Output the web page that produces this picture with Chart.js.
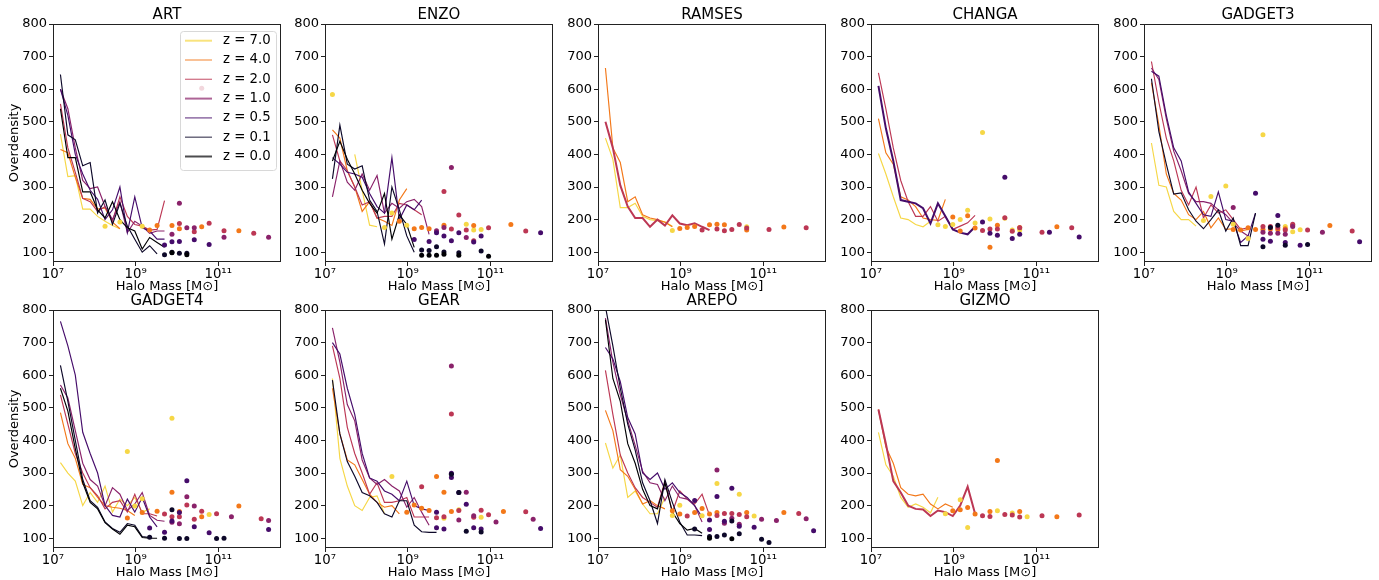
<!DOCTYPE html>
<html>
<head>
<meta charset="utf-8">
<script src="https://cdn.jsdelivr.net/npm/chart.js@4.4.1/dist/chart.umd.min.js"></script>
<style>
  body { margin: 0; background: #fff; width: 1379px; height: 580px; overflow: hidden; position: relative; }
  .panel { position: absolute; }
</style>
</head>
<body>
<script>
// redshift labels, one colour each (inferno-like)
const zLabels = ['z = 7.0', 'z = 4.0', 'z = 2.0', 'z = 1.0', 'z = 0.5', 'z = 0.1', 'z = 0.0'];
const zColors = ['#f6d746', '#f37819', '#bc3754', '#8a226a', '#450c6a', '#0d0829', '#000004'];

// log10 halo mass bin centres used by the binned lines
const massBins = [7.18, 7.36, 7.54, 7.72, 7.90, 8.08, 8.26, 8.44, 8.62, 8.80, 8.98, 9.16, 9.34, 9.52, 9.70];
const xTickExps = [7, 9, 11];
const yTicks = [100, 200, 300, 400, 500, 600, 700, 800];

// lines: one array per z (values per mass bin); points: [log10 M, overdensity]
const artLines = [
  [462, 332, 335, 232, 232, 210, 195, 182, 172],
  [415, 405, 330, 265, 262, 232, 236, 192, 172],
  [555, 420, 345, 265, 255, 225, 240, 195, 270, 210, 185, 180, 168, 170, 258],
  [600, 540, 420, 320, 295, 300, 240, 200, 255, 160, 195, 180, 158, 165, 165],
  [600, 520, 400, 340, 290, 262, 200, 230, 300, 160, 270, 175, 165, 140, 140],
  [645, 460, 445, 365, 375, 220, 260, 185, 250, 180, 140, 100, 120, 95],
  [540, 390, 390, 285, 285, 230, 205, 255, 200, 175, 165, 110, 145, 130, 115]
];
const artPoints = [
  [[8.26, 180], [8.62, 193], [9.16, 180]],
  [[9.34, 168], [9.52, 182], [9.88, 182], [10.06, 172], [10.60, 178], [11.50, 166]],
  [[10.06, 188], [10.42, 163], [10.60, 603], [10.78, 189], [11.14, 166], [11.86, 158]],
  [[9.88, 155], [10.06, 250], [10.24, 175], [10.42, 175], [11.14, 146], [12.22, 146]],
  [[9.70, 122], [9.88, 132], [10.06, 133], [10.42, 138], [10.78, 124]],
  [[9.70, 92], [9.88, 100], [10.06, 97], [10.24, 97]],
  [[9.88, 98], [10.24, 92]]
];

const enzoLines = [
  [null, null, null, 400, 290, 183, 178],
  [475, 450, 350, 300, 225, 255, 205, 195, 182, 260, 295],
  [460, 380, 350, 300, 245, 255, 205, 210, 210, 250, 245, 230, 215],
  [270, 380, 315, 290, 340, 290, 335, 220, 250, 235, 255, 262, 240, 155],
  [390, 370, 345, 340, 330, 280, 240, 220, 390, 200, 245, 230, 260],
  [325, 490, 370, 355, 365, 260, 225, 125, 300, 230, 150, 100],
  [380, 440, 385, 340, 290, 250, 220, 280, 140, 215, 185, 115]
];
const enzoPoints = [
  [[7.18, 584], [8.44, 176], [8.62, 220], [8.98, 183], [10.42, 186], [10.60, 168], [10.78, 170]],
  [[8.80, 195], [9.16, 172], [9.34, 176], [9.52, 172], [9.88, 183], [10.60, 182], [11.50, 185]],
  [[9.88, 286], [10.06, 171], [10.24, 214], [10.42, 168], [10.60, 135], [10.96, 175], [11.86, 165]],
  [[9.70, 166], [9.88, 176], [10.06, 360], [10.42, 145]],
  [[9.16, 139], [9.52, 133], [9.70, 160], [9.88, 150], [10.06, 135], [10.24, 160], [10.60, 131], [10.78, 150], [12.22, 160]],
  [[9.34, 107], [9.52, 105], [9.70, 117], [9.88, 101], [10.24, 98], [10.78, 104]],
  [[9.34, 91], [9.52, 91], [9.70, 91], [9.88, 94], [10.24, 91], [10.96, 88]]
];

const ramsesLines = [
  [450, 385, 237, 237, 250, 210, 200, 197, 193, 180],
  [665, 420, 375, 255, 270, 215, 205, 200, 192, 178],
  [500, 420, 305, 240, 205, 205, 178, 200, 182, 213, 188, 183, 189, 178, 168],
  [], [], [], []
];
const ramsesPoints = [
  [[8.80, 167], [10.60, 178]],
  [[8.98, 173], [9.16, 176], [9.34, 179], [9.70, 184], [9.88, 186], [10.06, 184], [10.60, 168], [11.50, 177]],
  [[9.52, 168], [9.88, 171], [10.06, 166], [10.24, 170], [10.42, 185], [10.60, 174], [11.14, 170], [12.04, 175]],
  [], [], [], []
];

const changaLines = [
  [403, 340, 270, 205, 200, 185, 178, 195],
  [510, 405, 370, 270, 260, 240, 205, 200, 198, 262],
  [650, 540, 420, 320, 255, 210, 210, 240, 195, 210, 170, 180, 190, 213],
  [],
  [610, 480, 380, 260, 255, 250, 235, 188, 250, 210, 170, 160, 155, 178],
  [], []
];
const changaPoints = [
  [[8.62, 184], [8.80, 179], [8.98, 185], [9.16, 200], [9.34, 229], [9.52, 190], [9.70, 467], [9.88, 202], [10.24, 204], [10.42, 168], [10.60, 168]],
  [[8.98, 208], [9.16, 165], [9.34, 212], [9.52, 174], [9.88, 115], [10.06, 183], [10.60, 176], [11.50, 178]],
  [[9.70, 167], [9.88, 171], [10.06, 171], [10.24, 206], [10.42, 164], [10.60, 175], [11.14, 161], [11.86, 175]],
  [],
  [[9.70, 193], [9.88, 158], [10.06, 152], [10.24, 330], [10.42, 142], [10.60, 155], [11.32, 161], [12.04, 147]],
  [], []
];

const gadget3Lines = [
  [435, 305, 300, 225, 200, 200, 180],
  [620, 490, 340, 280, 260, 215, 200, 225, 175, 205, 170, 172, 165, 170],
  [685, 560, 450, 380, 290, 245, 300, 205, 245, 220, 230, 200, 170, 175],
  [665, 630, 510, 410, 350, 280, 255, 255, 250, 230, 215, 190, 165, 150],
  [655, 640, 520, 420, 380, 285, 250, 215, 210, 285, 200, 195, 130, 150, 220],
  [632, 470, 370, 278, 282, 230, 195, 172, 200, 230, 165, 205, 120, 120, 220],
  []
];
const gadget3Points = [
  [[8.44, 197], [8.62, 271], [8.98, 303], [9.16, 186], [9.52, 142], [9.88, 460], [10.42, 179], [10.60, 163], [10.78, 169]],
  [[9.16, 170], [9.34, 168], [9.52, 175], [9.70, 170], [9.88, 170], [10.06, 171], [10.24, 170], [10.42, 172], [10.60, 182], [11.50, 182]],
  [[9.88, 179], [10.06, 179], [10.24, 176], [10.42, 168], [10.60, 186], [10.96, 168], [12.04, 165]],
  [[9.16, 237], [9.88, 161], [10.06, 158], [10.24, 158], [10.42, 155], [10.60, 179], [11.32, 161]],
  [[9.70, 281], [9.88, 140], [10.06, 134], [10.24, 213], [10.42, 130], [10.78, 121], [12.22, 132]],
  [[9.88, 117], [10.06, 176], [10.24, 183], [10.42, 121], [10.96, 124]],
  []
];

const gadget4Lines = [
  [332, 300, 275, 200, 240, 210, 260, 180, 220, 200, 225, 180, 190],
  [485, 390, 345, 265, 255, 225, 200, 195, 192, 185, 170],
  [540, 450, 360, 300, 255, 230, 190, 210, 215, 180, 235, 175, 175, 168],
  [570, 530, 430, 330, 280, 260, 200, 255, 235, 185, 205, 240, 170, 155, 152],
  [765, 690, 600, 425, 360, 300, 200, 170, 165, 220, 180, 225, 165, 135],
  [630, 520, 400, 280, 215, 195, 150, 130, 118, 145, 140, 105, 102],
  [560, 490, 375, 270, 210, 190, 148, 128, 112, 140, 135, 102, 100, 100]
];
const gadget4Points = [
  [[8.80, 366], [8.98, 199], [9.16, 221], [9.88, 468], [10.78, 173]],
  [[8.80, 162], [9.16, 179], [9.52, 183], [9.88, 241], [10.06, 182], [10.60, 166], [11.50, 199]],
  [[9.70, 174], [9.88, 166], [10.06, 166], [10.24, 202], [10.42, 158], [10.60, 183], [10.96, 175], [12.04, 160]],
  [[9.88, 149], [10.06, 144], [10.24, 227], [10.42, 199], [11.32, 166], [12.22, 154]],
  [[9.34, 131], [9.70, 118], [9.88, 153], [10.06, 179], [10.24, 276], [10.42, 135], [10.78, 117], [12.22, 127]],
  [[9.34, 103], [9.70, 100], [9.88, 187], [10.06, 99], [10.24, 99], [10.96, 99], [11.14, 100]],
  []
];

const gearLines = [
  [590, 345, 260, 200, 185, 225, 230, 175],
  [560, 420, 340, 325, 280, 235, 210, 195, 200, 175],
  [690, 590, 440, 360, 300, 235, 270, 210, 210, 215, 225, 165, 165, 165],
  [745, 640, 510, 460, 340, 285, 265, 280, 260, 245, 195, 225, 180, 140],
  [700, 665, 560, 480, 360, 285, 275, 245, 235, 215, 275, 200, 190, 185],
  [585, 420, 335, 290, 240, 230, 210, 175, 165, 215, 215, 140, 120, 118, 118],
  []
];
const gearPoints = [
  [[8.62, 289], [9.88, 161], [10.24, 187], [10.78, 164]],
  [[8.98, 180], [9.16, 202], [9.34, 192], [9.52, 185], [9.70, 289], [9.88, 241], [10.06, 182], [11.32, 182]],
  [[9.34, 258], [9.70, 163], [9.88, 166], [10.06, 481], [10.24, 185], [10.60, 164], [10.78, 186], [10.96, 172], [11.86, 181]],
  [[10.06, 628], [10.24, 156], [10.42, 241], [10.60, 169], [11.14, 150], [12.04, 158]],
  [[9.70, 180], [9.70, 132], [9.88, 128], [10.06, 299], [10.06, 286], [10.24, 240], [10.42, 204], [10.60, 132], [10.78, 128], [12.22, 130]],
  [[10.06, 296], [10.24, 240], [10.42, 121], [10.78, 119]],
  []
];

const arepoLines = [
  [392, 315, 355, 225, 245, 205, 175, 175, 225],
  [492, 430, 310, 290, 250, 205, 215, 200, 190],
  [615, 480, 355, 300, 255, 225, 210, 195, 275, 180, 245, 220, 205, 235, 170],
  [775, 640, 540, 460, 385, 305, 270, 265, 215, 260, 225, 220, 200, 150],
  [685, 650, 580, 470, 420, 300, 280, 300, 250, 270, 240, 225, 200, 165],
  [810, 690, 560, 450, 370, 270, 215, 145, 280, 210, 150, 110, 110, 108],
  [770, 590, 520, 390, 330, 250, 200, 190, 270, 180, 145, 125, 130, 115]
];
const arepoPoints = [
  [[8.80, 170], [8.98, 201], [9.52, 169], [9.88, 268], [10.42, 235], [10.78, 168]],
  [[8.80, 184], [8.98, 174], [9.34, 179], [9.52, 191], [9.70, 174], [9.88, 179], [10.60, 179], [11.50, 179]],
  [[9.16, 168], [9.88, 170], [10.06, 176], [10.24, 176], [10.42, 173], [10.60, 166], [11.86, 176]],
  [[9.88, 309], [10.06, 146], [10.24, 161], [10.42, 143], [10.96, 158], [11.32, 154], [12.04, 160]],
  [[9.34, 216], [9.70, 156], [9.70, 127], [9.88, 228], [10.06, 152], [10.24, 253], [10.42, 137], [10.78, 134], [12.22, 123]],
  [[9.34, 128], [9.70, 105], [9.88, 105], [10.06, 110], [10.24, 153], [10.42, 114], [10.96, 97], [11.14, 87]],
  [[9.70, 100], [10.24, 98]]
];

const gizmoLines = [
  [425, 325, 290, 225, 195, 205, 195, 178, 226],
  [495, 380, 330, 255, 235, 230, 235, 205, 190, 205, 195],
  [495, 390, 275, 240, 200, 190, 188, 168, 185, 180, 168, 200, 258, 175],
  [], [], [], []
];
const gizmoPoints = [
  [[8.80, 175], [9.16, 218], [9.34, 133], [10.06, 184], [10.42, 177], [10.78, 166]],
  [[8.98, 184], [9.16, 187], [9.34, 194], [9.52, 174], [9.88, 182], [10.06, 338], [10.60, 182], [11.50, 166]],
  [[9.70, 169], [9.88, 167], [10.24, 173], [10.42, 171], [10.60, 165], [11.14, 169], [12.04, 171]],
  [], [], [], []
];

const panels = [
  { title: 'ART', lines: artLines, points: artPoints, row: 0, col: 0, legend: true },
  { title: 'ENZO', lines: enzoLines, points: enzoPoints, row: 0, col: 1 },
  { title: 'RAMSES', lines: ramsesLines, points: ramsesPoints, row: 0, col: 2, thick: 2 },
  { title: 'CHANGA', lines: changaLines, points: changaPoints, row: 0, col: 3, thick: 4 },
  { title: 'GADGET3', lines: gadget3Lines, points: gadget3Points, row: 0, col: 4 },
  { title: 'GADGET4', lines: gadget4Lines, points: gadget4Points, row: 1, col: 0 },
  { title: 'GEAR', lines: gearLines, points: gearPoints, row: 1, col: 1 },
  { title: 'AREPO', lines: arepoLines, points: arepoPoints, row: 1, col: 2 },
  { title: 'GIZMO', lines: gizmoLines, points: gizmoPoints, row: 1, col: 3, thick: 2 }
];

// plot-area placement on the page
const lefts = [53, 325, 598, 871, 1144];
const tops = [24, 310];
const plotW = 228, plotH = 238, yAxisW = 53, headH = 24, footH = 34, padR = 4;
const legendWidths = [2, 1.3, 1.3, 2, 1.3, 1.3, 2];
const FONT = "'DejaVu Sans', sans-serif";
const supDigits = { '0': '⁰', '1': '¹', '2': '²', '3': '³', '4': '⁴', '5': '⁵', '6': '⁶', '7': '⁷', '8': '⁸', '9': '⁹' };
const sup = n => String(n).split('').map(c => supDigits[c]).join('');

const framePlugin = {
  id: 'frame',
  afterDatasetsDraw(chart) {
    const a = chart.chartArea, c = chart.ctx;
    c.save();
    c.strokeStyle = '#222';
    c.lineWidth = 1;
    c.strokeRect(a.left + 0.5, a.top + 0.5, a.right - a.left - 1, a.bottom - a.top - 1);
    c.restore();
  }
};

const zLegend = {
  id: 'zLegend',
  afterDraw(chart, args, opts) {
    if (!opts.show) return;
    const a = chart.chartArea, c = chart.ctx;
    const w = 96, h = 139, x0 = a.right - w - 5, y0 = a.top + 7;
    c.save();
    c.fillStyle = 'rgba(255,255,255,0.8)';
    c.strokeStyle = '#d8d8d8';
    c.lineWidth = 1;
    c.beginPath();
    c.roundRect(x0 + 0.5, y0 + 0.5, w, h, 3);
    c.fill();
    c.stroke();
    c.font = '13.3px ' + FONT;
    c.textBaseline = 'middle';
    zLabels.forEach((lab, i) => {
      const y = y0 + 9.7 + i * 19.3;
      c.globalAlpha = 0.7;
      c.strokeStyle = zColors[i];
      c.lineWidth = legendWidths[i];
      c.beginPath();
      c.moveTo(x0 + 5, y);
      c.lineTo(x0 + 32, y);
      c.stroke();
      c.globalAlpha = 1;
      c.fillStyle = '#000';
      c.fillText(lab, x0 + 43, y);
    });
    c.restore();
  }
};

panels.forEach(p => {
  const div = document.createElement('div');
  div.className = 'panel';
  const cw = yAxisW + plotW + padR, ch = headH + plotH + footH;
  div.style.left = (lefts[p.col] - yAxisW) + 'px';
  div.style.top = (tops[p.row] - headH) + 'px';
  div.style.width = cw + 'px';
  div.style.height = ch + 'px';
  const canvas = document.createElement('canvas');
  canvas.width = cw;
  canvas.height = ch;
  div.appendChild(canvas);
  document.body.appendChild(div);

  const datasets = [];
  zLabels.forEach((lab, zi) => {
    const vals = p.lines[zi];
    if (vals.length) {
      datasets.push({
        label: lab,
        data: vals.map((v, i) => v == null ? null : { x: 10 ** massBins[i], y: v }).filter(Boolean),
        showLine: true,
        pointRadius: 0,
        borderColor: zColors[zi],
        borderWidth: p.thick === zi ? 2 : 1.15,
        order: 20 - zi
      });
    }
    if (p.points[zi].length) {
      datasets.push({
        label: lab,
        data: p.points[zi].map(q => ({ x: 10 ** q[0], y: q[1] })),
        showLine: false,
        pointRadius: 2.5,
        pointBorderWidth: 0,
        backgroundColor: zColors[zi],
        order: 10 - zi
      });
    }
  });

  new Chart(canvas, {
    type: 'scatter',
    data: { datasets },
    options: {
      responsive: false,
      animation: false,
      events: [],
      layout: { padding: { left: 0, right: padR, top: 0, bottom: 0 } },
      plugins: {
        legend: { display: false },
        tooltip: { enabled: false },
        title: {
          display: true,
          text: p.title,
          fullSize: false,
          color: '#000',
          font: { family: FONT, size: 15, weight: 'normal', lineHeight: 1.2 },
          padding: { top: 6, bottom: 0 }
        },
        zLegend: { show: !!p.legend }
      },
      scales: {
        x: {
          type: 'logarithmic',
          min: 1e7,
          max: 10 ** 12.52,
          afterBuildTicks: ax => { ax.ticks = xTickExps.map(e => ({ value: 10 ** e })); },
          afterFit: ax => { ax.height = footH; },
          ticks: {
            autoSkip: false,
            maxRotation: 0,
            padding: 1,
            color: '#000',
            font: { family: FONT, size: 13.3 },
            callback: v => '10' + sup(Math.round(Math.log10(v)))
          },
          grid: { display: true, drawOnChartArea: false, drawTicks: true, tickLength: 4, color: '#222' },
          border: { display: false },
          title: {
            display: true,
            text: 'Halo Mass [M⊙]',
            color: '#000',
            font: { family: FONT, size: 13 },
            padding: { top: 0, bottom: 1.2 }
          }
        },
        y: {
          type: 'linear',
          min: 70,
          max: 800,
          afterBuildTicks: ax => { ax.ticks = yTicks.map(v => ({ value: v })); },
          afterFit: ax => { ax.width = yAxisW; },
          ticks: {
            padding: 2,
            color: '#000',
            font: { family: FONT, size: 13 }
          },
          grid: { display: true, drawOnChartArea: false, drawTicks: true, tickLength: 4, color: '#222' },
          border: { display: false },
          title: {
            display: p.col === 0,
            text: 'Overdensity',
            color: '#000',
            font: { family: FONT, size: 13 },
            padding: { top: 7, bottom: 0 }
          }
        }
      }
    },
    plugins: [framePlugin, zLegend]
  });
});
</script>
</body>
</html>
